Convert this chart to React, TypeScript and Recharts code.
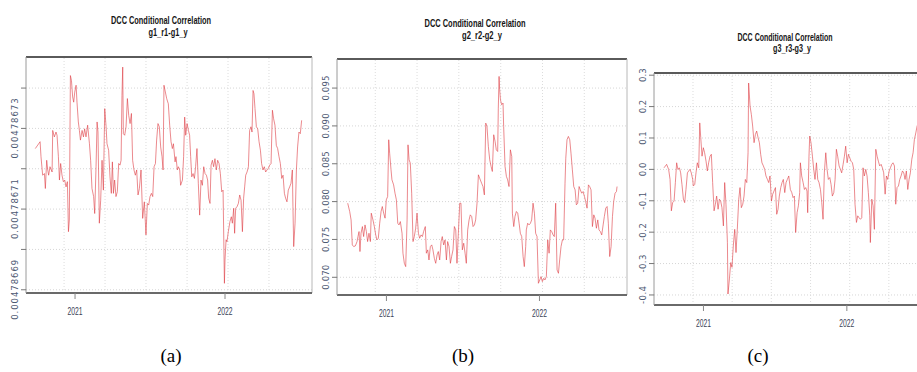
import React from "react";
import { LineChart, Line, XAxis, YAxis, CartesianGrid, ReferenceLine } from "recharts";

// shared x-axis stuff (dates as decimal years)
const gridDates = [2020.927, 2021.2, 2021.473, 2021.747, 2022.02, 2022.293];
const yearTicks = [2021, 2022];

// panel (a) g1_r1-g1_y
const g1Dates = [
  2020.735, 2020.767, 2020.773, 2020.784, 2020.796, 2020.802, 2020.811, 2020.818, 2020.824, 2020.833,
  2020.847, 2020.851, 2020.862, 2020.873, 2020.88, 2020.889, 2020.896, 2020.904, 2020.913, 2020.922,
  2020.931, 2020.94, 2020.949, 2020.956, 2020.962, 2020.969, 2020.976, 2020.984, 2020.991, 2020.998,
  2021.007, 2021.013, 2021.022, 2021.029, 2021.036, 2021.047, 2021.056, 2021.064, 2021.073, 2021.084,
  2021.096, 2021.104, 2021.113, 2021.124, 2021.131, 2021.14, 2021.147, 2021.153, 2021.162, 2021.171,
  2021.18, 2021.189, 2021.198, 2021.207, 2021.213, 2021.224, 2021.233, 2021.242, 2021.249, 2021.256,
  2021.264, 2021.273, 2021.282, 2021.291, 2021.3, 2021.307, 2021.313, 2021.318, 2021.322, 2021.331,
  2021.34, 2021.349, 2021.358, 2021.367, 2021.376, 2021.384, 2021.393, 2021.402, 2021.411, 2021.42,
  2021.429, 2021.44, 2021.451, 2021.462, 2021.473, 2021.482, 2021.491, 2021.5, 2021.509, 2021.518,
  2021.527, 2021.536, 2021.544, 2021.553, 2021.562, 2021.571, 2021.58, 2021.587, 2021.593, 2021.611,
  2021.622, 2021.631, 2021.64, 2021.649, 2021.656, 2021.667, 2021.673, 2021.682, 2021.689, 2021.698,
  2021.704, 2021.716, 2021.724, 2021.731, 2021.738, 2021.747, 2021.756, 2021.764, 2021.771, 2021.778,
  2021.787, 2021.796, 2021.804, 2021.813, 2021.822, 2021.831, 2021.84, 2021.849, 2021.858, 2021.867,
  2021.876, 2021.884, 2021.891, 2021.9, 2021.907, 2021.916, 2021.924, 2021.933, 2021.942, 2021.951,
  2021.96, 2021.969, 2021.978, 2021.987, 2021.996, 2022.0, 2022.007, 2022.013, 2022.022, 2022.033,
  2022.042, 2022.049, 2022.058, 2022.064, 2022.071, 2022.08, 2022.089, 2022.098, 2022.107, 2022.116,
  2022.124, 2022.131, 2022.138, 2022.147, 2022.156, 2022.164, 2022.173, 2022.18, 2022.187, 2022.193,
  2022.2, 2022.209, 2022.218, 2022.227, 2022.236, 2022.244, 2022.253, 2022.262, 2022.271, 2022.28,
  2022.289, 2022.298, 2022.307, 2022.316, 2022.324, 2022.333, 2022.342, 2022.351, 2022.36, 2022.369,
  2022.378, 2022.387, 2022.396, 2022.404, 2022.413, 2022.422, 2022.431, 2022.44, 2022.449, 2022.453,
  2022.458, 2022.467, 2022.476, 2022.484, 2022.493, 2022.502, 2022.511,
];
const g1Values = [
  0.004786725, 0.0047867267, 0.004786723, 0.0047867184, 0.0047867188, 0.0047867151, 0.0047867221, 0.0047867197, 0.0047867184, 0.0047867205,
  0.0047867192, 0.0047867295, 0.0047867279, 0.0047867291, 0.0047867283, 0.004786723, 0.0047867172, 0.0047867213, 0.0047867184, 0.0047867168,
  0.0047867172, 0.0047867155, 0.0047867168, 0.0047867044, 0.0047867073, 0.0047867431, 0.0047867419, 0.0047867378, 0.0047867365, 0.004786739,
  0.0047867407, 0.0047867365, 0.0047867316, 0.0047867295, 0.0047867271, 0.0047867295, 0.0047867279, 0.0047867299, 0.0047867279, 0.0047867308,
  0.0047867262, 0.0047867221, 0.0047867151, 0.0047867131, 0.0047867089, 0.0047867205, 0.0047867316, 0.0047867291, 0.0047867065, 0.0047867122,
  0.0047867221, 0.0047867147, 0.0047867349, 0.0047867304, 0.0047867262, 0.0047867246, 0.004786718, 0.0047867139, 0.0047867217, 0.0047867139,
  0.0047867172, 0.0047867131, 0.0047867143, 0.0047867213, 0.0047867209, 0.0047867221, 0.0047867382, 0.0047867452, 0.0047867287, 0.0047867283,
  0.0047867304, 0.0047867374, 0.0047867332, 0.0047867312, 0.0047867337, 0.0047867221, 0.0047867197, 0.0047867184, 0.0047867197, 0.0047867135,
  0.0047867151, 0.0047867197, 0.0047867077, 0.0047867118, 0.0047867036, 0.0047867114, 0.004786711, 0.0047867131, 0.0047867139, 0.0047867131,
  0.0047867205, 0.0047867213, 0.0047867271, 0.0047867312, 0.0047867304, 0.0047867254, 0.004786723, 0.0047867197, 0.0047867407, 0.0047867374,
  0.0047867361, 0.0047867308, 0.0047867267, 0.004786725, 0.0047867262, 0.0047867217, 0.004786723, 0.0047867197, 0.0047867205, 0.0047867197,
  0.0047867159, 0.0047867172, 0.004786723, 0.0047867328, 0.0047867283, 0.0047867312, 0.0047867295, 0.0047867283, 0.004786723, 0.004786718,
  0.0047867188, 0.0047867176, 0.0047867205, 0.004786725, 0.0047867164, 0.0047867085, 0.0047867172, 0.0047867159, 0.0047867205, 0.0047867188,
  0.0047867184, 0.0047867172, 0.0047867127, 0.0047867114, 0.0047867209, 0.0047867221, 0.0047867205, 0.0047867225, 0.0047867197, 0.0047867221,
  0.0047867213, 0.0047867188, 0.0047867143, 0.0047867147, 0.0047866916, 0.0047866974, 0.0047867024, 0.0047867019, 0.0047867044, 0.0047867069,
  0.0047867081, 0.0047867065, 0.0047867102, 0.004786704, 0.0047867102, 0.0047867106, 0.0047867114, 0.0047867135, 0.0047867122, 0.0047867044,
  0.0047867127, 0.0047867155, 0.0047867184, 0.0047867192, 0.0047867205, 0.0047867295, 0.0047867304, 0.0047867291, 0.0047867394, 0.0047867386,
  0.0047867349, 0.0047867304, 0.0047867299, 0.0047867267, 0.0047867246, 0.0047867213, 0.0047867197, 0.0047867205, 0.0047867192, 0.0047867197,
  0.0047867201, 0.0047867209, 0.0047867213, 0.0047867345, 0.0047867324, 0.0047867308, 0.0047867258, 0.004786725, 0.004786723, 0.0047867213,
  0.0047867176, 0.0047867184, 0.0047867139, 0.0047867127, 0.0047867118, 0.0047867147, 0.0047867155, 0.0047867164, 0.0047867197, 0.0047867106,
  0.0047867007, 0.0047867065, 0.0047867197, 0.0047867254, 0.0047867291, 0.0047867287, 0.004786732,
];
const g1Ticks = [0.00478669, 0.0047867, 0.00478671, 0.00478672, 0.00478673, 0.00478674];

// panel (b) g2_r2-g2_y
const g2Dates = [
  2020.747, 2020.76, 2020.769, 2020.777, 2020.786, 2020.797, 2020.808, 2020.814, 2020.821, 2020.827,
  2020.834, 2020.843, 2020.851, 2020.86, 2020.869, 2020.877, 2020.886, 2020.895, 2020.901, 2020.912,
  2020.921, 2020.93, 2020.938, 2020.947, 2020.956, 2020.965, 2020.973, 2020.982, 2020.991, 2020.999,
  2021.008, 2021.015, 2021.021, 2021.03, 2021.036, 2021.047, 2021.056, 2021.065, 2021.074, 2021.082,
  2021.091, 2021.102, 2021.108, 2021.117, 2021.126, 2021.135, 2021.141, 2021.148, 2021.156, 2021.165,
  2021.174, 2021.182, 2021.191, 2021.2, 2021.209, 2021.217, 2021.226, 2021.235, 2021.243, 2021.254,
  2021.261, 2021.27, 2021.278, 2021.287, 2021.296, 2021.304, 2021.313, 2021.322, 2021.331, 2021.339,
  2021.348, 2021.357, 2021.365, 2021.374, 2021.383, 2021.392, 2021.4, 2021.409, 2021.418, 2021.426,
  2021.435, 2021.444, 2021.453, 2021.461, 2021.47, 2021.479, 2021.487, 2021.496, 2021.505, 2021.514,
  2021.522, 2021.531, 2021.54, 2021.548, 2021.557, 2021.566, 2021.575, 2021.583, 2021.592, 2021.601,
  2021.609, 2021.622, 2021.631, 2021.64, 2021.649, 2021.657, 2021.666, 2021.675, 2021.684, 2021.692,
  2021.701, 2021.71, 2021.718, 2021.727, 2021.731, 2021.736, 2021.74, 2021.745, 2021.753, 2021.762,
  2021.766, 2021.775, 2021.784, 2021.792, 2021.801, 2021.81, 2021.819, 2021.823, 2021.832, 2021.84,
  2021.849, 2021.858, 2021.867, 2021.875, 2021.884, 2021.893, 2021.901, 2021.91, 2021.914, 2021.923,
  2021.932, 2021.941, 2021.949, 2021.958, 2021.967, 2021.975, 2021.984, 2021.993, 2022.002, 2022.01,
  2022.019, 2022.028, 2022.036, 2022.045, 2022.054, 2022.063, 2022.071, 2022.08, 2022.089, 2022.097,
  2022.106, 2022.115, 2022.124, 2022.132, 2022.141, 2022.15, 2022.158, 2022.167, 2022.172, 2022.18,
  2022.189, 2022.198, 2022.206, 2022.215, 2022.224, 2022.233, 2022.241, 2022.25, 2022.259, 2022.267,
  2022.276, 2022.285, 2022.294, 2022.302, 2022.311, 2022.32, 2022.328, 2022.337, 2022.346, 2022.355,
  2022.363, 2022.372, 2022.381, 2022.389, 2022.398, 2022.407, 2022.416, 2022.424, 2022.433, 2022.442,
  2022.45, 2022.459, 2022.468, 2022.477, 2022.485, 2022.494, 2022.503, 2022.507,
];
const g2Values = [
  0.07979, 0.07869, 0.07758, 0.07428, 0.07406, 0.07415, 0.07472, 0.07538, 0.07604, 0.0734,
  0.07582, 0.0767, 0.07538, 0.07692, 0.07604, 0.07472, 0.07582, 0.07472, 0.07847, 0.07758,
  0.0767, 0.0756, 0.07494, 0.07516, 0.07714, 0.07869, 0.07935, 0.07847, 0.07781, 0.08023,
  0.08067, 0.08817, 0.0864, 0.0842, 0.08288, 0.08221, 0.08111, 0.08023, 0.07714, 0.07692,
  0.07736, 0.07582, 0.07318, 0.07185, 0.07141, 0.07758, 0.0875, 0.08552, 0.08508, 0.08111,
  0.07472, 0.07538, 0.07648, 0.07847, 0.07582, 0.07516, 0.0756, 0.07538, 0.07604, 0.0767,
  0.07318, 0.07362, 0.07229, 0.07406, 0.07428, 0.07362, 0.07251, 0.07185, 0.07296, 0.0734,
  0.07229, 0.07472, 0.07538, 0.07428, 0.07494, 0.07229, 0.07472, 0.07406, 0.07185, 0.07274,
  0.07362, 0.0767, 0.07626, 0.07185, 0.07582, 0.07979, 0.07979, 0.07362, 0.0745, 0.07318,
  0.07185, 0.07626, 0.07758, 0.07825, 0.07803, 0.0767, 0.07692, 0.07758, 0.07979, 0.08354,
  0.0831, 0.08243, 0.08199, 0.08089, 0.09037, 0.08993, 0.08728, 0.08552, 0.08464, 0.08398,
  0.08883, 0.08795, 0.08684, 0.08662, 0.09235, 0.09654, 0.09478, 0.09346, 0.0928, 0.09302,
  0.08993, 0.08464, 0.08332, 0.08288, 0.08199, 0.08684, 0.08596, 0.07847, 0.0767, 0.07803,
  0.07869, 0.07847, 0.07714, 0.07582, 0.07538, 0.07274, 0.07141, 0.07406, 0.07626, 0.07714,
  0.07692, 0.07714, 0.07758, 0.07979, 0.07847, 0.07582, 0.07538, 0.06921, 0.06965, 0.07009,
  0.06943, 0.06987, 0.06965, 0.07009, 0.07494, 0.07318, 0.07626, 0.07604, 0.0756, 0.07538,
  0.07979, 0.07097, 0.07053, 0.07229, 0.07406, 0.07494, 0.07494, 0.08243, 0.08574, 0.08817,
  0.08861, 0.08817, 0.0864, 0.0842, 0.08199, 0.08155, 0.07957, 0.07979, 0.08199, 0.08155,
  0.08111, 0.08133, 0.08067, 0.08001, 0.07913, 0.08221, 0.08199, 0.08155, 0.0767, 0.07825,
  0.07781, 0.07648, 0.07758, 0.07626, 0.07604, 0.0756, 0.07692, 0.07803, 0.07913, 0.07935,
  0.07714, 0.07274, 0.07406, 0.07803, 0.08001, 0.08111, 0.08133, 0.08199,
];
const g2Ticks = [0.07, 0.075, 0.08, 0.085, 0.09, 0.095];

// panel (c) g3_r3-g3_y
const g3Dates = [
  2020.725, 2020.743, 2020.757, 2020.767, 2020.776, 2020.785, 2020.795, 2020.804, 2020.813, 2020.822,
  2020.832, 2020.841, 2020.85, 2020.86, 2020.869, 2020.878, 2020.888, 2020.897, 2020.906, 2020.915,
  2020.925, 2020.929, 2020.939, 2020.948, 2020.957, 2020.967, 2020.974, 2020.981, 2020.99, 2020.999,
  2021.008, 2021.018, 2021.027, 2021.036, 2021.046, 2021.055, 2021.064, 2021.074, 2021.083, 2021.092,
  2021.102, 2021.111, 2021.12, 2021.129, 2021.139, 2021.148, 2021.157, 2021.167, 2021.171, 2021.181,
  2021.19, 2021.199, 2021.208, 2021.218, 2021.227, 2021.236, 2021.246, 2021.255, 2021.264, 2021.274,
  2021.283, 2021.292, 2021.302, 2021.311, 2021.315, 2021.325, 2021.334, 2021.343, 2021.353, 2021.362,
  2021.371, 2021.381, 2021.39, 2021.399, 2021.408, 2021.418, 2021.427, 2021.436, 2021.446, 2021.455,
  2021.464, 2021.474, 2021.483, 2021.492, 2021.502, 2021.511, 2021.52, 2021.529, 2021.539, 2021.548,
  2021.557, 2021.567, 2021.576, 2021.585, 2021.595, 2021.606, 2021.616, 2021.625, 2021.634, 2021.643,
  2021.653, 2021.662, 2021.671, 2021.676, 2021.685, 2021.695, 2021.704, 2021.713, 2021.722, 2021.727,
  2021.736, 2021.741, 2021.75, 2021.76, 2021.769, 2021.778, 2021.788, 2021.797, 2021.806, 2021.816,
  2021.825, 2021.834, 2021.843, 2021.853, 2021.862, 2021.871, 2021.881, 2021.89, 2021.899, 2021.909,
  2021.918, 2021.927, 2021.936, 2021.946, 2021.955, 2021.964, 2021.974, 2021.983, 2021.992, 2022.002,
  2022.011, 2022.02, 2022.029, 2022.039, 2022.048, 2022.057, 2022.067, 2022.076, 2022.085, 2022.095,
  2022.104, 2022.113, 2022.122, 2022.132, 2022.141, 2022.15, 2022.16, 2022.164, 2022.174, 2022.183,
  2022.192, 2022.202, 2022.211, 2022.22, 2022.229, 2022.239, 2022.248, 2022.257, 2022.267, 2022.276,
  2022.285, 2022.295, 2022.304, 2022.313, 2022.322, 2022.332, 2022.341, 2022.35, 2022.36, 2022.369,
  2022.378, 2022.388, 2022.397, 2022.406, 2022.415, 2022.425, 2022.434, 2022.443, 2022.453, 2022.462,
  2022.471, 2022.481, 2022.49, 2022.499,
];
const g3Values = [
  0.005, 0.016, 0.0, -0.032, -0.132, -0.106, -0.101, -0.042, 0.021, 0.0,
  0.005, -0.011, -0.048, -0.095, -0.106, -0.064, -0.011, -0.005, 0.0, -0.011,
  -0.032, -0.053, -0.048, -0.011, 0.021, 0.005, 0.148, 0.101, 0.042, 0.069,
  0.053, 0.026, -0.005, 0.021, 0.042, 0.048, -0.042, -0.132, -0.111, -0.085,
  -0.127, -0.095, -0.101, -0.122, -0.18, -0.042, -0.111, -0.233, -0.397, -0.349,
  -0.297, -0.312, -0.244, -0.191, -0.265, -0.191, -0.095, -0.058, -0.122, -0.111,
  -0.085, -0.032, -0.042, 0.053, 0.275, 0.201, 0.175, 0.138, 0.085, 0.111,
  0.122, 0.101, 0.085, 0.048, 0.021, 0.011, 0.0, -0.021, -0.032, -0.042,
  -0.021, -0.101, -0.079, -0.069, -0.058, -0.143, -0.127, -0.085, -0.058, -0.042,
  -0.032, -0.074, -0.042, -0.032, -0.021, -0.064, -0.074, -0.09, -0.085, -0.201,
  -0.138, -0.116, -0.074, 0.021, -0.021, -0.042, -0.064, -0.058, -0.069, -0.138,
  0.042, 0.106, 0.085, 0.042, 0.0, -0.032, 0.021, -0.032, -0.042, -0.064,
  -0.106, -0.159, -0.011, 0.053, 0.0, -0.032, -0.026, -0.048, -0.085, -0.074,
  -0.032, 0.064, 0.042, 0.011, 0.0, -0.011, 0.016, 0.042, 0.074, 0.021,
  0.048, 0.037, 0.026, 0.021, 0.0, -0.111, -0.169, -0.148, -0.154, -0.159,
  -0.154, 0.005, -0.021, 0.0, -0.021, -0.074, -0.148, -0.233, -0.095, -0.116,
  -0.191, 0.064, 0.042, 0.026, 0.011, 0.016, 0.005, -0.011, -0.079, -0.021,
  -0.032, -0.005, 0.005, 0.016, 0.021, 0.011, -0.111, -0.058, -0.053, -0.032,
  -0.021, -0.005, -0.011, -0.032, -0.005, -0.064, -0.032, -0.011, 0.032, 0.053,
  0.095, 0.116, 0.138, 0.148,
];
const g3Ticks = [-0.4, -0.3, -0.2, -0.1, 0, 0.1, 0.2, 0.3];

const toRows = (dates: number[], values: number[]) => dates.map((t, i) => ({ t, v: values[i] }));

const LINE_RED = "#de3a40";
const AXIS_TXT = "#4d5872";

interface PanelProps {
  left: number;
  width: number;
  margin: { top: number; right: number; bottom: number; left: number };
  yWidth: number;
  rows: { t: number; v: number }[];
  xDomain: [number, number];
  yDomain: [number, number];
  yTicks: number[];
  fmt: (v: number) => string;
  showLabel: (i: number) => boolean;
  perChar: number;
}

const Panel = ({ left, width, margin, yWidth, rows, xDomain, yDomain, yTicks, fmt, showLabel, perChar }: PanelProps) => {
  const renderYTick = (p: any) => {
    const idx = yTicks.findIndex((v) => Math.abs(v - p.payload.value) < Math.abs(yTicks[1] - yTicks[0]) / 10);
    if (!showLabel(idx)) return <g />;
    const s = fmt(p.payload.value);
    const bx = p.x - 1;
    return (
      <text
        x={bx}
        y={p.y}
        transform={`rotate(-90 ${bx} ${p.y})`}
        textAnchor="middle"
        fontSize={8.5}
        fontFamily="'DejaVu Sans', sans-serif"
        fill={AXIS_TXT}
        textLength={s.length * perChar}
        lengthAdjust="spacing"
      >
        {s}
      </text>
    );
  };
  const renderXTick = (p: any) => (
    <text
      x={p.x}
      y={p.y + 14}
      textAnchor="middle"
      fontSize={10.5}
      fontFamily="'Liberation Sans Narrow', 'Liberation Sans', sans-serif"
      fill="#3a4256"
      textLength={15}
      lengthAdjust="spacingAndGlyphs"
    >
      {p.payload.value}
    </text>
  );
  return (
    <div style={{ position: "absolute", left, top: 0 }}>
      <LineChart width={width} height={372} data={rows} margin={margin}>
        <CartesianGrid vertical={false} stroke="#d6d6d6" strokeDasharray="1 2" />
        {gridDates.map((d) => (
          <ReferenceLine key={d} x={d} stroke="#dcdcdc" strokeDasharray="1 2" />
        ))}
        <XAxis
          dataKey="t"
          type="number"
          domain={xDomain}
          ticks={yearTicks}
          allowDataOverflow
          height={30}
          tickSize={6}
          tickMargin={2}
          tickLine={{ stroke: "#888" }}
          axisLine={{ stroke: "#6a6a6a", strokeWidth: 2 }}
          tick={renderXTick}
        />
        <YAxis
          type="number"
          domain={yDomain}
          ticks={yTicks}
          allowDataOverflow
          width={yWidth}
          tickSize={5}
          tickMargin={2}
          tickLine={{ stroke: "#777" }}
          axisLine={{ stroke: "#9a9a9a" }}
          tick={renderYTick}
          interval={0}
        />
        <ReferenceLine y={yDomain[1]} stroke="#5a5a5a" strokeWidth={2} />
        <ReferenceLine x={xDomain[1]} stroke="#b8b8b8" />
        <Line
          type="linear"
          dataKey="v"
          stroke={LINE_RED}
          strokeWidth={0.7}
          strokeOpacity={0.85}
          dot={false}
          isAnimationActive={false}
        />
      </LineChart>
    </div>
  );
};

const titles = [
  { cx: 161, y1: 24, y2: 36, sub: "g1_r1-g1_y", w1: 100, w2: 39 },
  { cx: 475, y1: 27, y2: 39, sub: "g2_r2-g2_y", w1: 101, w2: 40 },
  { cx: 785, y1: 41, y2: 52, sub: "g3_r3-g3_y", w1: 95, w2: 38 },
];
const captions = [
  { x: 171, label: "(a)" },
  { x: 463, label: "(b)" },
  { x: 758, label: "(c)" },
];

export default function App() {
  return (
    <div
      style={{
        position: "absolute",
        left: 0,
        top: 0,
        width: 917,
        height: 372,
        overflow: "hidden",
        background: "#fff",
      }}
    >
      <Panel
        left={0}
        width={320}
        margin={{ top: 57, right: 8, bottom: 49, left: 0 }}
        yWidth={26}
        rows={toRows(g1Dates, g1Values)}
        xDomain={[2020.673, 2022.58]}
        yDomain={[0.0047866892, 0.0047867477]}
        yTicks={g1Ticks}
        fmt={(v) => v.toFixed(8)}
        showLabel={(i) => i % 2 === 0}
        perChar={6}
      />
      <Panel
        left={312}
        width={320}
        margin={{ top: 59, right: 5, bottom: 47, left: 0 }}
        yWidth={25}
        rows={toRows(g2Dates, g2Values)}
        xDomain={[2020.677, 2022.572]}
        yDomain={[0.06766, 0.09884]}
        yTicks={g2Ticks}
        fmt={(v) => v.toFixed(3)}
        showLabel={() => true}
        perChar={5}
      />
      <Panel
        left={627}
        width={310}
        margin={{ top: 73, right: 8, bottom: 37, left: 0 }}
        yWidth={27}
        rows={toRows(g3Dates, g3Values)}
        xDomain={[2020.655, 2022.573]}
        yDomain={[-0.432, 0.307]}
        yTicks={g3Ticks}
        fmt={(v) => v.toFixed(1)}
        showLabel={() => true}
        perChar={4.5}
      />
      <svg width={917} height={372} style={{ position: "absolute", left: 0, top: 0, pointerEvents: "none" }}>
        {titles.map((t) => (
          <g key={t.sub} fontFamily="'Liberation Sans', Arial, sans-serif" fontWeight="bold" fontSize={11} fill="#151515">
            <text x={t.cx} y={t.y1} textAnchor="middle" textLength={t.w1} lengthAdjust="spacingAndGlyphs">
              DCC Conditional Correlation
            </text>
            <text x={t.cx + 7} y={t.y2} textAnchor="middle" textLength={t.w2} lengthAdjust="spacingAndGlyphs">
              {t.sub}
            </text>
          </g>
        ))}
        {captions.map((c) => (
          <text
            key={c.label}
            x={c.x}
            y={362}
            textAnchor="middle"
            fontFamily="'Liberation Serif', 'Times New Roman', serif"
            fontSize={19}
            fill="#000"
          >
            {c.label}
          </text>
        ))}
      </svg>
    </div>
  );
}
